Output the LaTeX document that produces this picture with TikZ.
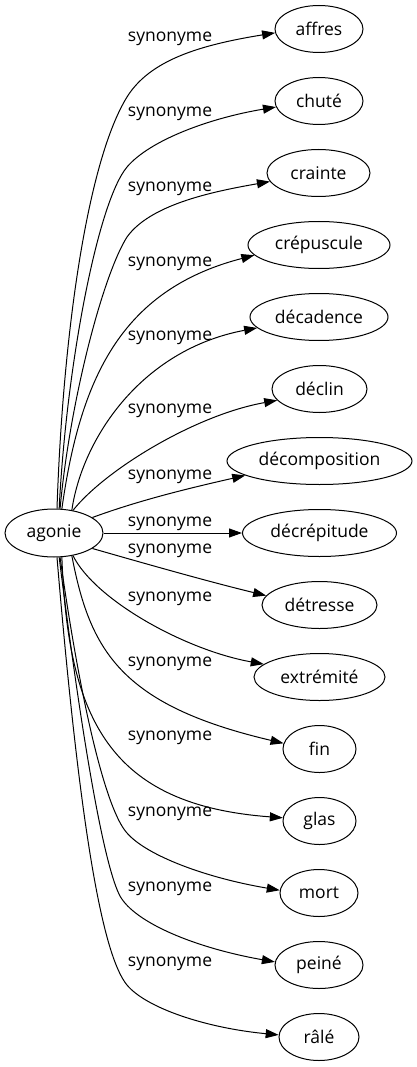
\documentclass[tikz,border=0pt]{standalone}
\usepackage{fontspec}
\setmainfont{Open Sans}
\usetikzlibrary{arrows.meta,shapes.geometric}
\tikzset{
  word/.style={ellipse, draw, line width=1pt, inner sep=0pt, minimum height=47pt,
    font=\fontsize{17.5pt}{20pt}\selectfont},
  rel/.style={inner sep=0pt, anchor=base, font=\fontsize{17.5pt}{20pt}\selectfont},
  link/.style={line width=1pt, -{Triangle[length=13pt,width=9pt]}},
}
\begin{document}
\begin{tikzpicture}[x=1pt,y=-1pt]
\useasboundingbox (0,0) rectangle (416,1067);
% nodes
\node[word, minimum width=98pt, minimum height=48pt] (agonie) at (54,533) {agonie};
\node[word, minimum width=88pt]  (affres)        at (319,29)    {affres};
\node[word, minimum width=88pt]  (chute)         at (319,101)   {chuté};
\node[word, minimum width=103pt] (crainte)       at (318.5,173) {crainte};
\node[word, minimum width=142pt] (crepuscule)    at (319,245)   {crépuscule};
\node[word, minimum width=138pt] (decadence)     at (319,317)   {décadence};
\node[word, minimum width=95pt]  (declin)        at (319.5,389) {déclin};
\node[word, minimum width=185pt] (decomposition) at (319.5,461) {décomposition};
\node[word, minimum width=154pt] (decrepitude)   at (319.5,533) {décrépitude};
\node[word, minimum width=115pt] (detresse)      at (319.5,605) {détresse};
\node[word, minimum width=131pt] (extremite)     at (319.5,677) {extrémité};
\node[word, minimum width=73pt]  (fin)           at (319.5,749) {fin};
\node[word, minimum width=73pt]  (glas)          at (319.5,821) {glas};
\node[word, minimum width=78pt]  (mort)          at (319,893)   {mort};
\node[word, minimum width=88pt]  (peine)         at (319,965)   {peiné};
\node[word, minimum width=80pt]  (rale)          at (319,1037)  {râlé};
% labels (placed by baseline)
\node[rel] (l1)  at (170,42)    {synonyme};
\node[rel] (l2)  at (170,116.5) {synonyme};
\node[rel] (l3)  at (170,191.5) {synonyme};
\node[rel] (l4)  at (170,266.5) {synonyme};
\node[rel] (l5)  at (170,340.5) {synonyme};
\node[rel] (l6)  at (170,413.5) {synonyme};
\node[rel] (l7)  at (170,479.5) {synonyme};
\node[rel] (l8)  at (170,526.5) {synonyme};
\node[rel] (l9)  at (170,553.5) {synonyme};
\node[rel] (l10) at (170,601.5) {synonyme};
\node[rel] (l11) at (170,666.5) {synonyme};
\node[rel] (l12) at (170,740.5) {synonyme};
\node[rel] (l13) at (170,816.5) {synonyme};
\node[rel] (l14) at (170,891.5) {synonyme};
\node[rel] (l15) at (170,966.5) {synonyme};
% edges
\draw[link] (agonie.83) .. controls (63,330) and (88,160) .. (127,97) .. controls (150,60) and (200,45) .. (affres.185);
\draw[link] (agonie.78) .. controls (66,370) and (97,203) .. (127,167) .. controls (150,140) and (210,118) .. (chute.188);
\draw[link] (agonie.76) .. controls (70,400) and (103,275) .. (127,237) .. controls (150,205) and (210,192) .. (crainte.190);
\draw[link] (agonie.72) .. controls (80,380) and (120,290) .. (crepuscule.189);
\draw[link] (agonie.52) .. controls (82,440) and (140,350) .. (decadence.190);
\draw[link] (agonie.50) .. controls (105,470) and (195,415) .. (declin.195);
\draw[link] (agonie.22) .. controls (140,500) and (190,488) .. (decomposition.191);
\draw[link] (agonie.east) -- (decrepitude.west);
\draw[link] (agonie.-22) .. controls (150,565) and (210,582) .. (detresse.170);
\draw[link] (agonie.-50) .. controls (95,600) and (185,650) .. (extremite.167);
\draw[link] (agonie.-52) .. controls (90,650) and (120,705) .. (fin.171);
\draw[link] (agonie.-72) .. controls (68,720) and (110,805) .. (glas.175);
\draw[link] (agonie.-76) .. controls (82,713) and (107,811) .. (127,833) .. controls (147,856) and (207,878) .. (mort.176);
\draw[link] (agonie.-78) .. controls (85,764) and (106,870) .. (120,896) .. controls (135,923) and (196,948) .. (peine.176);
\draw[link] (agonie.-83) .. controls (81,843) and (104,957) .. (127,985) .. controls (146,1008) and (206,1028) .. (rale.177);
\end{tikzpicture}
\end{document}
